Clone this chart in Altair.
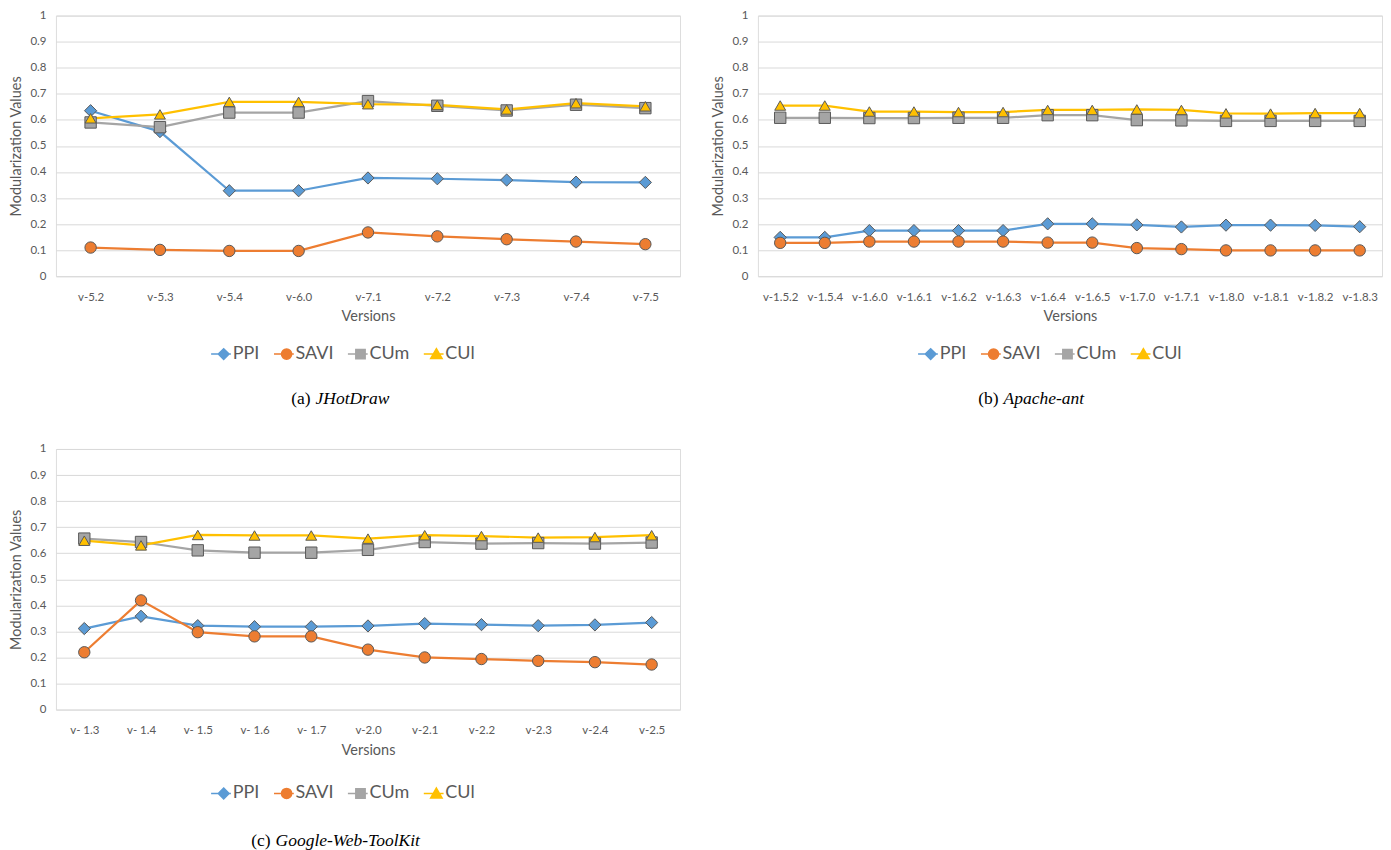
import altair as alt
import pandas as pd

METRICS = ["PPI", "SAVI", "CUm", "CUl"]
COLORS = ["#5B9BD5", "#ED7D31", "#A5A5A5", "#FFC000"]
SHAPES = ["diamond", "circle", "square", "triangle-up"]
SIZES = [150, 130, 130, 120]
Y_TICKS = [0, 0.1, 0.2, 0.3, 0.4, 0.5, 0.6, 0.7, 0.8, 0.9, 1]

# legend symbols: a short series line with the marker on it
LEGEND_SYMBOLS = [
    "M-2.1,0L-0.9,0M0.9,0L1.2,0M0,-0.9L0.9,0L0,0.9L-0.9,0Z",
    "M-2.1,0L-0.85,0M0.85,0L1.2,0M0.85,0A0.85,0.85 0 1,1 -0.85,0A0.85,0.85 0 1,1 0.85,0Z",
    "M-2.1,0L-0.78,0M0.78,0L1.2,0M-0.78,-0.78L0.78,-0.78L0.78,0.78L-0.78,0.78Z",
    "M-2.1,0L-0.52,0M0.52,0L1.2,0M0,-0.9L0.95,0.75L-0.95,0.75Z",
]

# (a) JHotDraw
A_VERSIONS = ["v-5.2", "v-5.3", "v-5.4", "v-6.0", "v-7.1", "v-7.2", "v-7.3", "v-7.4", "v-7.5"]
A_PPI = [0.635, 0.555, 0.328, 0.328, 0.377, 0.374, 0.369, 0.361, 0.360]
A_SAVI = [0.110, 0.101, 0.097, 0.097, 0.168, 0.153, 0.142, 0.133, 0.123]
A_CUM = [0.590, 0.572, 0.628, 0.628, 0.672, 0.654, 0.636, 0.658, 0.645]
A_CUL = [0.606, 0.621, 0.669, 0.669, 0.660, 0.657, 0.640, 0.664, 0.652]

# (b) Apache-ant
B_VERSIONS = ["v-1.5.2", "v-1.5.4", "v-1.6.0", "v-1.6.1", "v-1.6.2", "v-1.6.3", "v-1.6.4",
              "v-1.6.5", "v-1.7.0", "v-1.7.1", "v-1.8.0", "v-1.8.1", "v-1.8.2", "v-1.8.3"]
B_PPI = [0.149, 0.149, 0.175, 0.175, 0.175, 0.175, 0.201, 0.201, 0.197, 0.189, 0.196, 0.196, 0.195, 0.190]
B_SAVI = [0.128, 0.128, 0.133, 0.133, 0.133, 0.133, 0.129, 0.129, 0.108, 0.104, 0.099, 0.099, 0.099, 0.099]
B_CUM = [0.608, 0.608, 0.607, 0.607, 0.608, 0.608, 0.618, 0.618, 0.599, 0.598, 0.596, 0.596, 0.596, 0.596]
B_CUL = [0.655, 0.655, 0.632, 0.632, 0.630, 0.630, 0.638, 0.638, 0.640, 0.638, 0.625, 0.624, 0.626, 0.626]

# (c) Google-Web-ToolKit
C_VERSIONS = ["v- 1.3", "v- 1.4", "v- 1.5", "v- 1.6", "v- 1.7", "v-2.0", "v-2.1", "v-2.2", "v-2.3", "v-2.4", "v-2.5"]
C_PPI = [0.311, 0.358, 0.322, 0.318, 0.318, 0.321, 0.330, 0.326, 0.322, 0.325, 0.334]
C_SAVI = [0.220, 0.419, 0.297, 0.281, 0.281, 0.230, 0.200, 0.194, 0.187, 0.182, 0.173]
C_CUM = [0.656, 0.643, 0.611, 0.602, 0.602, 0.613, 0.643, 0.637, 0.639, 0.637, 0.641]
C_CUL = [0.648, 0.630, 0.670, 0.668, 0.668, 0.656, 0.669, 0.666, 0.660, 0.662, 0.669]

CAPTION_LETTERS = ["(a)", "(b)", "(c)"]
CAPTION_NAMES = ["JHotDraw", "Apache-ant", "Google-Web-ToolKit"]

FONT = "Lato"
GRAY = "#595959"
GRID = "#D9D9D9"
W, H = 625, 261


def panel(versions, ppi, savi, cum, cul, idx, legend_x, legend_y, cap_x, cap_y):
    rows = []
    for m, (metric, vals) in enumerate(zip(METRICS, [ppi, savi, cum, cul])):
        for v, val in zip(versions, vals):
            rows.append({"Version": v, "Metric": metric, "Value": val,
                         "seriesColor": COLORS[m], "shapeName": SHAPES[m],
                         "markSize": SIZES[m]})
    df = pd.DataFrame(rows)

    x = alt.X("Version:N", sort=versions,
              scale=alt.Scale(type="point", padding=0.5),
              axis=alt.Axis(title="Versions", labelAngle=0, domain=False, ticks=False, grid=False,
                            labelPadding=15, titlePadding=7, labelFont=FONT, labelFontSize=11.5,
                            labelColor=GRAY, titleFont=FONT, titleFontSize=14.5,
                            titleFontWeight="normal", titleColor=GRAY))
    y = alt.Y("Value:Q", scale=alt.Scale(domain=[0, 1], nice=False),
              axis=alt.Axis(title="Modularization Values", values=Y_TICKS, format="~g",
                            domain=False, ticks=False, grid=True, gridColor=GRID, gridWidth=1,
                            labelPadding=10, titlePadding=6, labelFont=FONT, labelFontSize=11.5,
                            labelColor=GRAY, titleFont=FONT, titleFontSize=14.5,
                            titleFontWeight="normal", titleColor=GRAY))
    base = alt.Chart(df).encode(x=x, y=y)

    lines = base.mark_line(strokeWidth=2.25).encode(
        stroke=alt.Stroke("seriesColor:N", scale=None),
        detail="Metric:N",
    )
    points = base.mark_point(filled=True, opacity=1, stroke="#595959", strokeWidth=1).encode(
        fill=alt.Fill("seriesColor:N", scale=None),
        shape=alt.Shape("shapeName:N", scale=None),
        size=alt.Size("markSize:Q", scale=None),
    )

    leg = alt.Legend(title=None, orient="none", legendX=legend_x, legendY=legend_y,
                     direction="horizontal", labelFont=FONT, labelFontSize=18,
                     labelColor=GRAY, symbolSize=144, symbolStrokeWidth=1.5,
                     columnPadding=11, labelOffset=0, padding=0)
    leg_df = pd.DataFrame({"Metric": METRICS})
    legend_layer = alt.Chart(leg_df).transform_filter("false").mark_point(
        filled=True, opacity=1).encode(
        fill=alt.Fill("Metric:N", scale=alt.Scale(domain=METRICS, range=COLORS),
                      legend=leg, sort=METRICS),
        stroke=alt.Stroke("Metric:N", scale=alt.Scale(domain=METRICS, range=COLORS),
                          legend=leg, sort=METRICS),
        shape=alt.Shape("Metric:N", scale=alt.Scale(domain=METRICS, range=LEGEND_SYMBOLS),
                        legend=leg, sort=METRICS),
    )

    cap_df = pd.DataFrame({"letter": [CAPTION_LETTERS[idx]], "name": [CAPTION_NAMES[idx]]})
    cap1 = alt.Chart(cap_df).mark_text(font="Liberation Serif", fontSize=17.5, align="right",
                                       baseline="middle", color="black").encode(
        x=alt.value(cap_x), y=alt.value(cap_y), text="letter:N")
    cap2 = alt.Chart(cap_df).mark_text(font="Liberation Serif", fontSize=17.5, align="left",
                                       fontStyle="italic", baseline="middle", color="black").encode(
        x=alt.value(cap_x + 5), y=alt.value(cap_y), text="name:N")
    return alt.layer(lines, points, legend_layer, cap1, cap2).properties(width=W, height=H)


pa = panel(A_VERSIONS, A_PPI, A_SAVI, A_CUM, A_CUL, 0, 159, 330, 255, 384)
pb = panel(B_VERSIONS, B_PPI, B_SAVI, B_CUM, B_CUL, 1, 164, 330, 241, 384)
pc = panel(C_VERSIONS, C_PPI, C_SAVI, C_CUM, C_CUL, 2, 159, 336, 215, 393)

RES = dict(x="independent", y="independent", fill="independent", stroke="independent",
           shape="independent")
LRES = dict(fill="independent", stroke="independent", shape="independent")

top = alt.hconcat(pa, pb, spacing=29).resolve_scale(**RES).resolve_legend(**LRES)

chart = alt.vconcat(top, pc, spacing=34).resolve_scale(**RES).resolve_legend(**LRES).properties(
    padding={"left": 0, "top": 0, "right": 0, "bottom": 0}
).configure_view(stroke=GRID, strokeWidth=1).configure(background="white")

chart.save("out.html", embed_options={"renderer": "svg", "actions": False})
